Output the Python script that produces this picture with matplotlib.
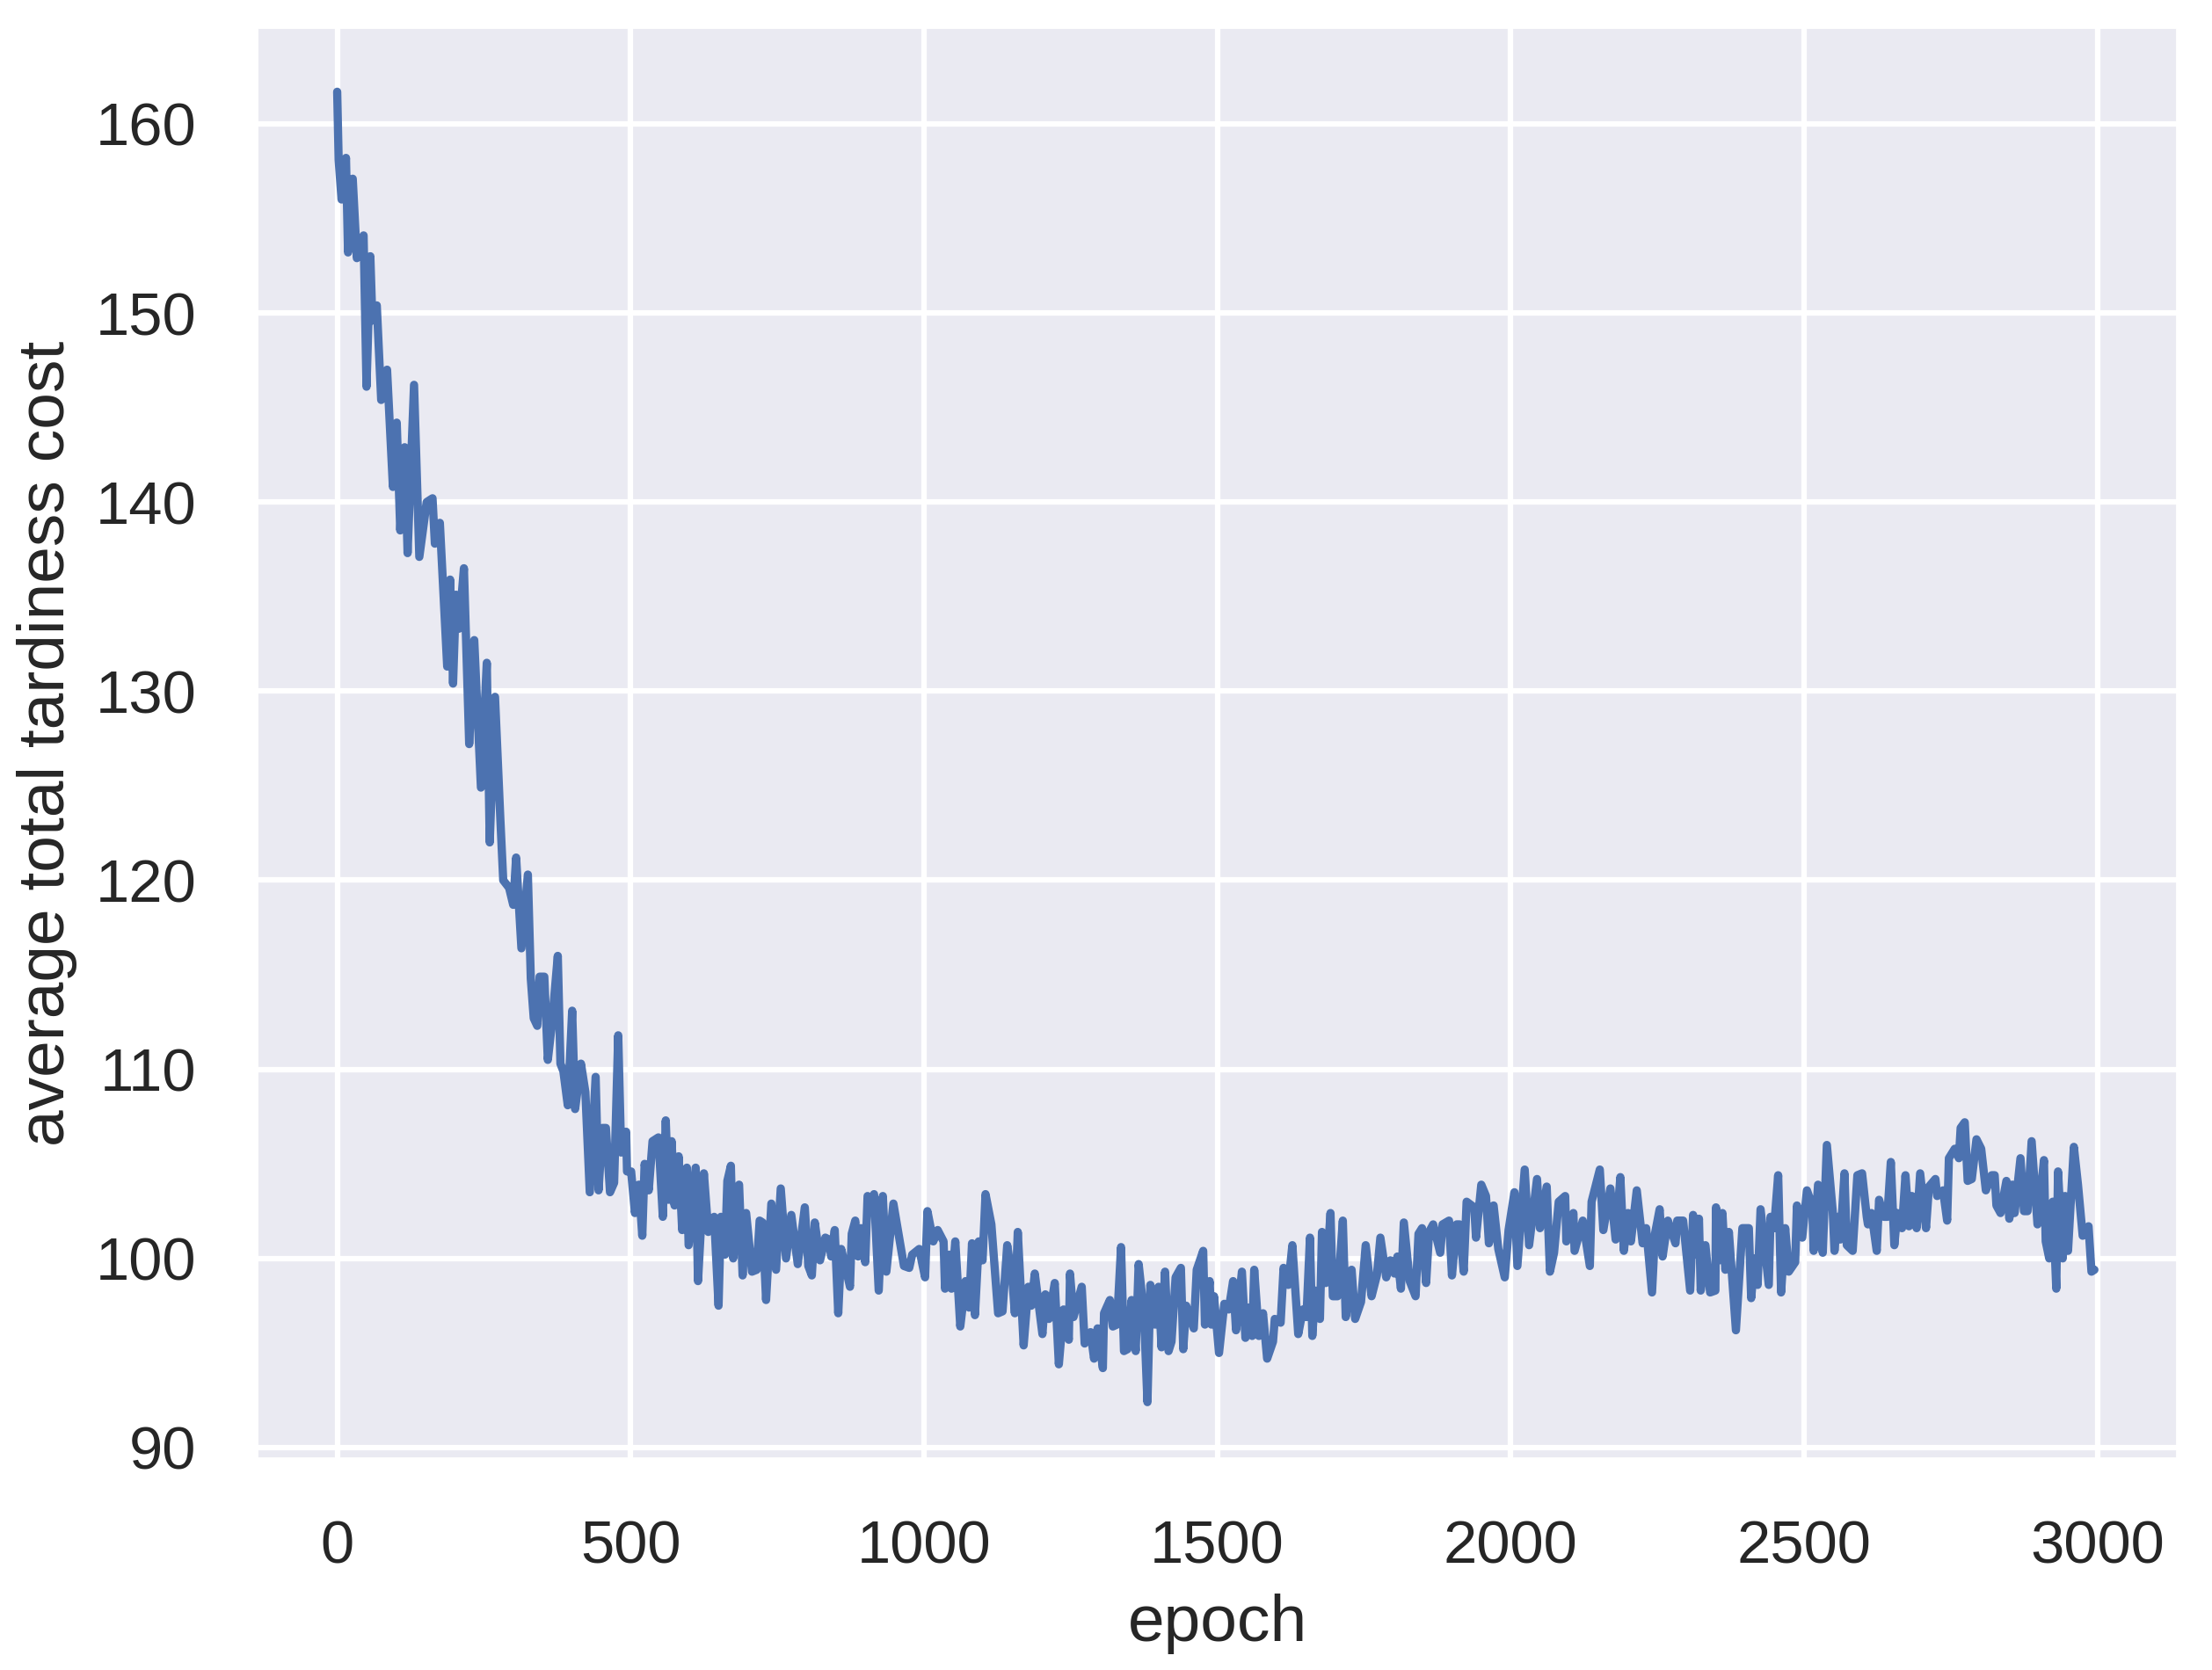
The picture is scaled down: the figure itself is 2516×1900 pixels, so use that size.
import matplotlib
matplotlib.use("Agg")
import matplotlib.pyplot as plt
import seaborn as sns

epochs = [
    0, 2.5, 7.5, 15, 18.5, 26.5, 33.5, 45, 50, 56.5, 60, 67.5, 75, 85, 95, 101.5, 107.5, 115, 120, 131,
    140, 152.5, 162.5, 166.5, 175,
    187.5, 192.5, 197.5, 202.5, 207.5, 216, 225, 233.6, 245, 255, 260, 269, 278, 283, 293, 300, 305, 314,
    325, 330, 335, 341, 345, 353, 359, 366, 376, 380.5, 385.5, 393, 400.5, 405.5, 415.5, 423, 430.5,
    440.5, 445.5, 452,
    458, 465, 472, 479, 484, 492.5, 494, 501, 507.5, 514, 520, 524, 531, 537.5, 547.5, 555, 560, 565, 570,
    575, 582, 588, 596, 599, 611, 615, 625, 632.5, 642.5, 650, 654, 661, 665, 671, 675, 685, 691, 697,
    707, 715, 720, 725, 731, 740, 748, 756, 765, 774, 785,
    797, 803, 809, 814, 823, 832, 838, 842, 848, 854, 859, 866, 874, 877, 883, 888, 893, 900, 904, 910,
    915, 923, 930, 936, 948, 959, 966, 975, 980, 992, 1002, 1006, 1016, 1023.5, 1033.5, 1036, 1043.5,
    1047, 1053.5, 1062, 1071, 1077, 1082, 1087, 1093.5, 1100, 1105, 1115, 1126.5, 1134, 1142, 1151, 1155,
    1160, 1170, 1178, 1183, 1189, 1202, 1207, 1213, 1223, 1230, 1238, 1247, 1249, 1255, 1269, 1274, 1284,
    1290, 1296, 1305, 1307, 1317, 1322, 1329, 1336, 1341, 1347, 1354, 1361, 1366, 1375, 1381, 1386, 1394,
    1400, 1405, 1411, 1417, 1422, 1429, 1438, 1442, 1447, 1460, 1465, 1476, 1479, 1487, 1490,
    1494.5, 1503, 1512, 1519.5, 1527, 1532, 1542, 1548, 1553, 1559.5, 1563, 1571, 1578, 1585, 1595, 1598,
    1608, 1613, 1621, 1628, 1638, 1646, 1652, 1658, 1662, 1667, 1675, 1678.5, 1685, 1693, 1697, 1705,
    1714, 1719, 1729, 1735, 1745, 1753, 1763, 1772, 1778, 1788, 1795, 1802, 1807, 1813, 1818, 1828, 1838,
    1843, 1849, 1856, 1861, 1868, 1880, 1884, 1895, 1900, 1908, 1913, 1920, 1925, 1938, 1941, 1950, 1958,
    1963, 1971, 1979, 1990, 1996.5, 2006.5, 2011.5, 2024, 2031.5, 2045, 2050, 2061.5, 2067, 2074, 2082,
    2093, 2095, 2107, 2109, 2123, 2135, 2138, 2152, 2158, 2170, 2179, 2187, 2193,
    2200, 2205, 2215, 2225, 2231, 2241, 2246, 2254, 2259, 2268, 2281, 2284, 2294, 2306, 2311, 2316, 2321,
    2324, 2332, 2340, 2349, 2350, 2356, 2361, 2366, 2372, 2384, 2395, 2406, 2410, 2416, 2421, 2426, 2440,
    2443, 2449, 2456, 2461, 2468, 2474, 2485, 2488, 2497, 2505, 2514, 2516.5, 2524, 2532,
    2539, 2549, 2552, 2557, 2562, 2569, 2573, 2583, 2591, 2599, 2607, 2609, 2615, 2624, 2628, 2636, 2642,
    2648, 2654, 2659, 2667, 2673, 2679, 2684, 2692, 2698, 2708, 2713, 2724, 2727, 2737, 2744, 2747, 2757,
    2764, 2767, 2774, 2779, 2786, 2794, 2802, 2810, 2820, 2825, 2828, 2835, 2845, 2850, 2855, 2859, 2869,
    2875, 2881, 2888, 2898, 2909, 2912, 2918, 2924, 2930, 2933, 2941, 2945, 2950, 2960, 2967, 2975, 2985,
    2990, 2995,
]

cost = [
    161.7, 158.1, 156.0, 158.2, 153.2, 157.1, 152.9, 154.1, 146.1, 153.0, 149.6, 150.4, 145.4, 147.0, 140.8,
    144.2, 138.5, 142.9, 137.3, 146.2, 137.1, 140.0, 140.2, 137.8, 138.9,
    131.3, 135.9, 130.4, 135.1, 133.3, 136.5, 127.2, 132.7, 124.9, 131.5, 122.0, 129.7, 123.3, 120.0, 119.6,
    118.7, 121.2, 116.4, 120.3, 114.8, 112.7, 112.3, 114.9, 114.9, 110.5, 112.4, 116.0, 110.3, 109.9, 108.1,
    113.1, 107.9, 110.3, 108.8, 103.5, 109.6, 103.6, 106.9,
    106.9, 103.5, 104.0, 111.8, 105.6, 106.7, 104.6, 104.6, 102.4, 103.9, 101.2, 105.0, 103.6, 106.2, 106.4,
    102.2, 107.3, 103.1, 106.2, 102.8, 105.4, 101.5, 104.8, 100.7, 104.8, 98.8, 104.5, 101.4, 102.2, 97.5,
    102.2, 100.2, 104.1, 104.9, 100.0, 103.9, 99.1, 102.4, 99.3, 99.4, 102.0, 101.9, 97.8, 102.9, 99.4,
    103.7, 100.0, 102.3, 99.7,
    102.7, 99.6, 99.1, 101.9, 99.9, 101.1, 101.0, 100.1, 101.5, 97.1, 100.5, 99.6, 98.5, 101.3, 102.0, 100.1,
    101.6, 99.8, 103.3, 103.0, 103.4, 98.3, 103.3, 99.3, 102.9, 100.9, 99.6, 99.5, 100.2, 100.5, 99.0, 102.5,
    100.9, 101.5, 100.9, 98.4, 100.2, 98.4, 100.9, 96.4, 98.8, 97.4, 100.8, 97.0, 100.9, 99.9, 103.4, 101.8,
    97.1, 97.2, 100.7, 98.8, 97.1,
    101.4, 95.4, 98.5, 97.5, 99.2, 96.0, 98.1, 96.8, 98.7, 94.4, 97.3, 95.7, 99.2, 96.9, 98.5, 95.5, 96.1,
    94.7, 96.3, 94.2, 97.1, 97.8, 96.4, 96.5, 100.6, 95.1, 95.2, 97.8, 95.1, 99.7, 97.1, 92.4, 98.6, 96.5,
    98.5, 95.3, 99.3, 95.1, 95.6, 99.0, 99.5, 95.2, 97.5, 96.3, 99.4, 100.4, 96.5, 98.8, 96.5,
    98.0, 95.0, 97.6, 97.3, 98.8, 96.2, 99.3, 95.8, 97.4, 95.9, 99.4, 95.9, 97.1, 94.7, 95.6, 96.8, 96.6,
    99.5, 98.6, 100.7, 96.0, 97.3, 96.9, 101.1, 95.9, 98.3, 96.8, 101.4, 98.7, 102.4, 98.0, 98.0, 102.0,
    96.9, 99.4, 96.8, 97.7, 100.7, 98.0, 99.1, 101.1, 99.0, 99.9, 99.2, 100.1, 98.4, 101.9, 98.8, 98.0,
    101.3, 101.6, 98.7, 101.4, 101.8, 100.3, 101.8, 102.0, 99.1, 101.8, 101.8, 99.3, 103.0, 102.7, 101.1,
    103.9, 103.3, 100.8, 102.8, 100.5, 99.0, 101.5, 103.5, 99.6, 104.7, 100.7, 104.2, 101.6, 103.8, 99.3,
    100.3, 103.0, 103.3, 100.9, 102.4, 100.4, 102.0, 99.6, 103.0, 104.7, 101.5, 103.7, 101.0, 104.3, 100.4,
    102.4, 100.9, 103.6, 100.8, 101.6, 98.2, 101.3, 102.6, 100.1, 102.0, 100.8, 102.0, 102.0, 98.3, 102.3,
    100.2, 102.1, 98.3, 100.7, 98.2, 98.3, 102.7, 99.9, 102.4, 99.4, 101.4, 96.2, 101.6, 101.6, 97.9, 100.0,
    98.6, 102.6, 98.6, 102.2, 101.6, 104.4, 98.2, 101.6, 99.3, 99.8, 102.8, 101.1, 103.6, 102.8, 100.4,
    103.9, 100.3,
    106.0, 102.5, 100.4, 102.2, 101.0, 104.5, 100.7, 100.4, 104.4, 104.5, 102.2, 101.8, 102.4, 100.4, 103.1,
    102.2, 102.2, 105.1, 100.7, 102.4, 101.6, 104.4, 101.7, 103.3, 101.6, 104.5, 101.6, 103.8, 104.2, 103.3,
    103.6, 102.0, 105.3, 105.8, 105.3, 106.9, 107.2, 104.1, 104.2, 106.3, 105.8, 103.6, 104.4, 104.4, 102.8,
    102.4, 104.1, 102.1, 103.9, 102.4, 105.3, 102.5, 102.5, 106.2, 101.8, 105.2, 100.9, 100.0, 103.0, 98.4,
    104.6, 100.0, 103.3, 100.4, 105.9, 103.9, 101.2, 101.7, 99.3, 99.4,
]

x_label = "epoch"
y_label = "average total tardiness cost"
x_ticks = [0, 500, 1000, 1500, 2000, 2500, 3000]
y_ticks = [90, 100, 110, 120, 130, 140, 150, 160]

sns.set_theme(context="talk", style="darkgrid")
plt.rcParams["font.family"] = ["Liberation Sans", "DejaVu Sans"]

fig = plt.figure(figsize=(2516 / 300, 1900 / 300), dpi=300)
ax = fig.add_axes([0.1153, 0.1253, 0.9853 - 0.1153, 0.9847 - 0.1253])
ax.plot(epochs, cost, color="#4c72b0")
ax.set_xticks(x_ticks)
ax.set_yticks(y_ticks)
ax.set_xlim(-140, 3140)
ax.set_ylim(89.3, 165.2)
ax.tick_params(axis="both", pad=7)
ax.set_xlabel(x_label, labelpad=5)
ax.set_ylabel(y_label, labelpad=5)
fig.savefig("out.png", dpi=300)
